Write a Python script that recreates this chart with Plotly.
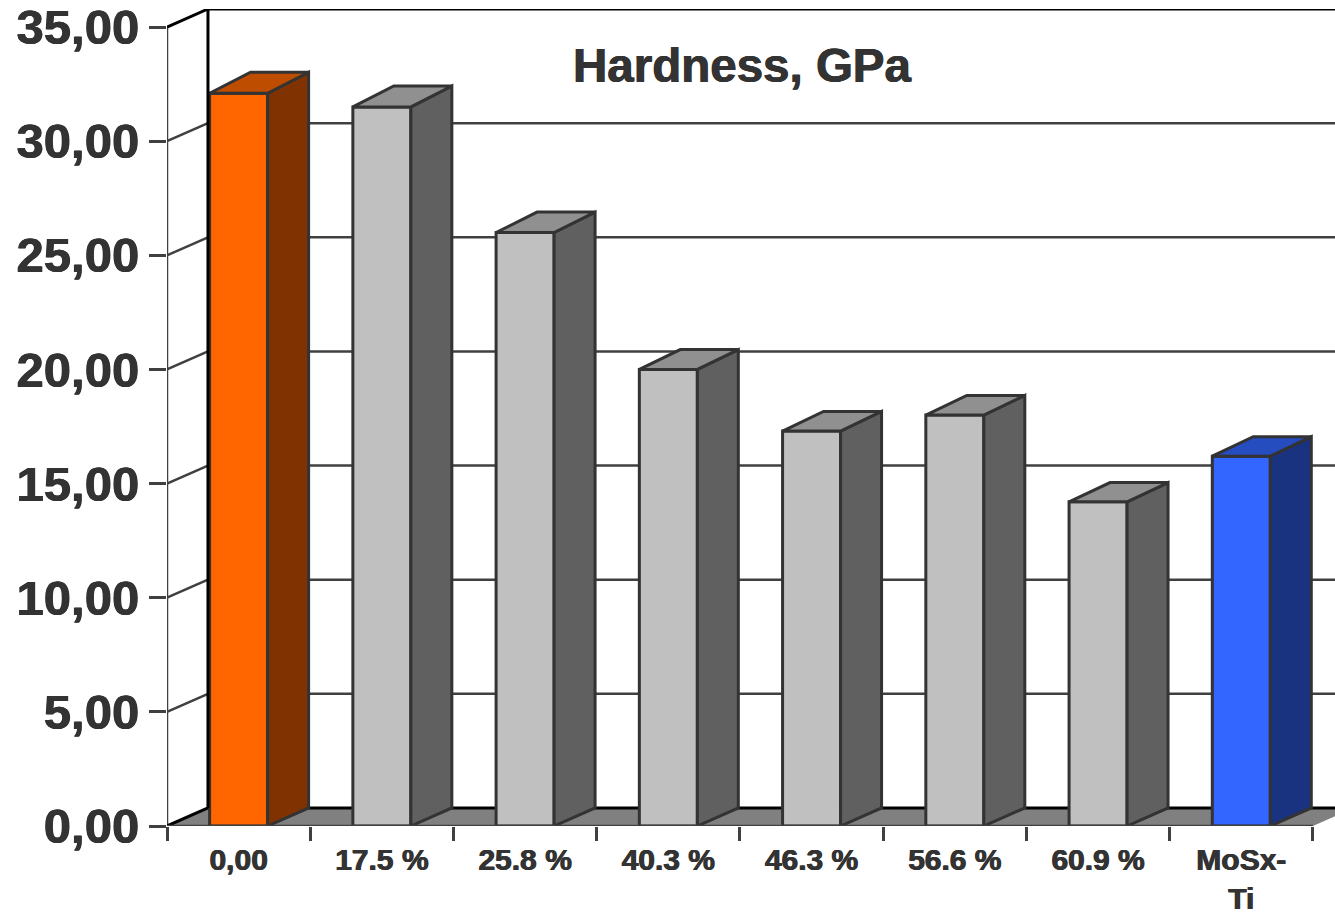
import plotly.graph_objects as go

# Data
categories = ["0,00", "17.5 %", "25.8 %", "40.3 %", "46.3 %", "56.6 %", "60.9 %", "MoSx-<br>Ti"]
hardness = [32.1, 31.5, 26.0, 20.0, 17.3, 18.0, 14.2, 16.2]
y_ticks = [0, 5, 10, 15, 20, 25, 30, 35]
y_tick_labels = ["0,00", "5,00", "10,00", "15,00", "20,00", "25,00", "30,00", "35,00"]

front_colors = ["#FF6600"] + ["#C0C0C0"] * 6 + ["#3366FF"]
side_colors = ["#803300"] + ["#606060"] * 6 + ["#1A3380"]
top_colors = ["#BF4D00"] + ["#909090"] * 6 + ["#264DBF"]

# Geometry of the pseudo-3D box, in axis units
BAR_WIDTH = 0.405
DEPTH_X = 0.286
DEPTH_Y = 0.79
TOP_SPREAD = 1.004
X_MAX = 8.154
Y_MAX = 35.79

INK = "#333333"
LINE = "#404040"
HEAVY = "0.5px 0 0 #333333, -0.5px 0 0 #333333"

centers = [i + 0.5 for i in range(len(categories))]
fig = go.Figure()

# Front faces
fig.add_trace(go.Bar(
    x=centers, y=hardness, width=BAR_WIDTH,
    marker=dict(color=front_colors, line=dict(color=INK, width=3)),
    cliponaxis=False, hoverinfo="skip",
))


def polygon(xs, ys, color):
    fig.add_trace(go.Scatter(
        x=xs + xs[:1], y=ys + ys[:1], mode="lines", fill="toself",
        fillcolor=color, line=dict(color=INK, width=3),
        cliponaxis=False, hoverinfo="skip",
    ))


def segment(xs, ys, color=LINE, width=2.5):
    fig.add_trace(go.Scatter(
        x=xs, y=ys, mode="lines", line=dict(color=color, width=width),
        cliponaxis=False, hoverinfo="skip",
    ))


# Side and top faces of each bar
for c, v, side, top in zip(centers, hardness, side_colors, top_colors):
    left, right = c - BAR_WIDTH / 2, c + BAR_WIDTH / 2
    back_top = v * TOP_SPREAD + DEPTH_Y
    polygon([right, right + DEPTH_X, right + DEPTH_X, right],
            [0, DEPTH_Y, back_top, v], side)
    polygon([left, left + DEPTH_X, right + DEPTH_X, right],
            [v, back_top, back_top, v], top)

# Left wall: axis line and the slanted continuation of each gridline
segment([0, 0], [0, 35])
for t in y_ticks[1:-1]:
    segment([0, DEPTH_X], [t, t + DEPTH_Y])
segment([0, DEPTH_X], [35, 35 + DEPTH_Y], color="#000000", width=3)
segment([0, DEPTH_X], [0, DEPTH_Y], color="#000000", width=3)

# Back wall outline
segment([DEPTH_X, DEPTH_X], [DEPTH_Y, 35 + DEPTH_Y], color="#000000", width=3)
segment([DEPTH_X, X_MAX], [35 + DEPTH_Y, 35 + DEPTH_Y], color="#000000", width=3)

# Front edge of the floor
segment([0, len(categories)], [0, 0])

# Floor and back-wall gridlines sit underneath the bars
overhang = X_MAX - len(categories)
shapes = [dict(
    type="path", layer="below", xref="x", yref="y",
    path=f"M 0 0 L {DEPTH_X} {DEPTH_Y} L {X_MAX} {DEPTH_Y} "
         f"L {X_MAX} {overhang / DEPTH_X * DEPTH_Y} "
         f"L {len(categories)} 0 Z",
    fillcolor="#808080", line=dict(width=0),
)]
shapes.append(dict(
    type="line", layer="below", xref="x", yref="y",
    x0=DEPTH_X, x1=X_MAX, y0=DEPTH_Y, y1=DEPTH_Y,
    line=dict(color="#000000", width=3),
))
for t in y_ticks[1:-1]:
    shapes.append(dict(
        type="line", layer="below", xref="x", yref="y",
        x0=DEPTH_X, x1=X_MAX, y0=t + DEPTH_Y, y1=t + DEPTH_Y,
        line=dict(color=LINE, width=2.5),
    ))

fig.update_layout(
    width=1335, height=918,
    margin=dict(l=167, r=0, t=9, b=92),
    paper_bgcolor="#FFFFFF", plot_bgcolor="#FFFFFF",
    showlegend=False,
    shapes=shapes,
    title=dict(
        text="Hardness, GPa", x=(742 - 167) / 1168, y=1 - (65 - 9) / 817,
        xanchor="center", yanchor="middle", xref="paper", yref="paper",
        font=dict(family="Liberation Sans", size=47.5, color=INK, weight=700,
                  shadow=HEAVY),
    ),
    xaxis=dict(
        range=[0, X_MAX], showgrid=False, zeroline=False, showline=False,
        automargin=False,
        tickmode="array", tickvals=centers, ticktext=categories, ticks="",
        ticklabelstandoff=13,
        tickfont=dict(family="Liberation Sans", size=30, color=INK, weight=700,
                      shadow=HEAVY),
        minor=dict(tickmode="array", tickvals=list(range(len(categories) + 1)),
                   ticks="outside", ticklen=14, tickwidth=2.5, tickcolor=LINE,
                   showgrid=False),
    ),
    yaxis=dict(
        range=[0, Y_MAX], showgrid=False, zeroline=False, showline=False,
        automargin=False,
        tickmode="array", tickvals=y_ticks, ticktext=y_tick_labels,
        ticks="outside", ticklen=17, tickwidth=2.5, tickcolor=LINE,
        tickfont=dict(family="Liberation Sans", size=49, color=INK, weight=700,
                      shadow=HEAVY),
    ),
)

fig.write_html("out.html")
